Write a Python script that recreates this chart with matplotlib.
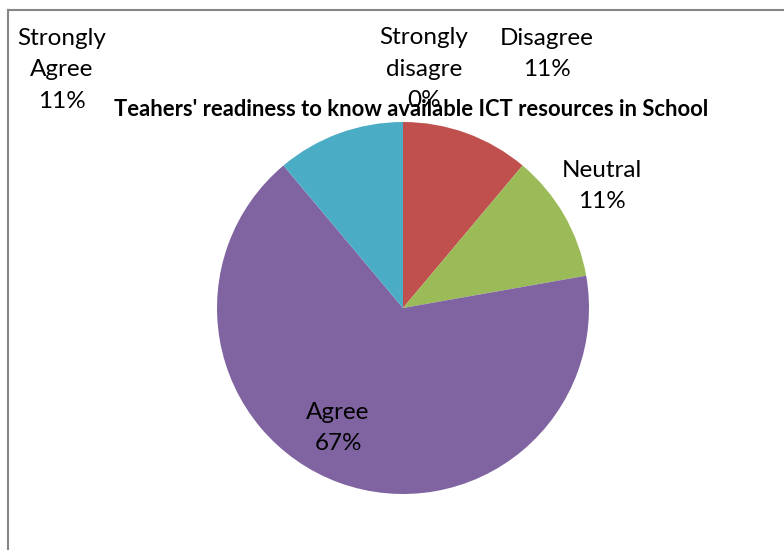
import matplotlib
matplotlib.use("Agg")
import matplotlib.pyplot as plt
from matplotlib.lines import Line2D

categories = ["Strongly disagree", "Disagree", "Neutral", "Agree", "Strongly Agree"]
values = [0, 1, 1, 6, 1]
label_texts = ["Strongly\ndisagre\n0%", "Disagree\n11%", "Neutral\n11%", "Agree\n67%", "Strongly\nAgree\n11%"]
colors = ["#4F81BD", "#C0504D", "#9BBB59", "#8064A2", "#4BACC6"]
title = "Teahers' readiness to know available ICT resources in School"

W, H = 784, 550
fig = plt.figure(figsize=(W / 100, H / 100), dpi=100)
plt.rcParams['font.family'] = ['Lato', 'DejaVu Sans']

cx, cy, r = 403, 308, 186
ax = fig.add_axes([(cx - r) / W, (H - cy - r) / H, 2 * r / W, 2 * r / H])
ax.pie(values, colors=colors, startangle=90, counterclock=False,
       wedgeprops=dict(linewidth=0), radius=1)
ax.set_xlim(-1, 1)
ax.set_ylim(-1, 1)
ax.set_aspect('auto')
ax.axis('off')

# label block centres in pixels
label_pos = [(424, 69), (547, 54), (602, 186), (338, 428), (62, 70)]
for txt, (x, y) in zip(label_texts, label_pos):
    fig.text(x / W, 1 - y / H, txt, ha='center', va='center', fontsize=17.5,
             linespacing=1.6, color='black')

fig.text(411 / W, 1 - 110 / H, title, ha='center', va='center', fontsize=15.8,
         fontweight='bold', color='black')

fig.add_artist(Line2D([8 / W, 1], [1 - 10 / H, 1 - 10 / H], color='#868686', lw=1.5))
fig.add_artist(Line2D([8 / W, 8 / W], [0, 1 - 10 / H], color='#868686', lw=1.5))

fig.savefig("out.png", dpi=100)
